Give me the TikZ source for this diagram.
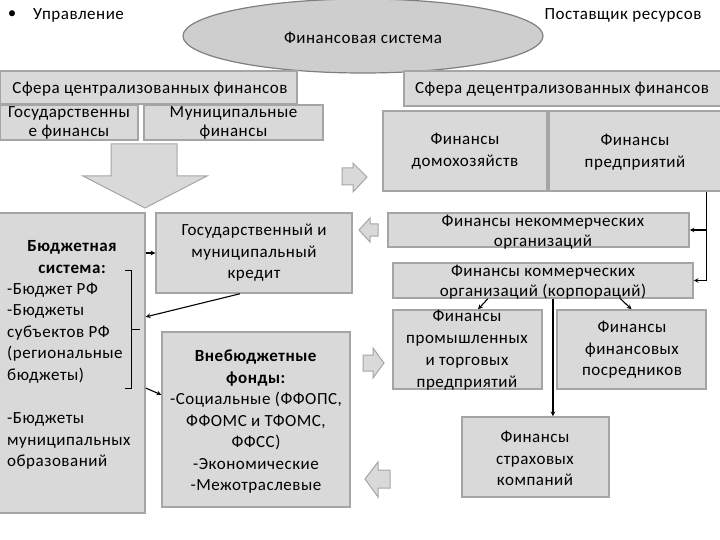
\documentclass[tikz,border=0pt]{standalone}
\usepackage{fontspec}
\setmainfont{Carlito}[LetterSpace=3]
\usetikzlibrary{calc,shapes.geometric}
\definecolor{boxfill}{HTML}{D9D9D9}
\definecolor{boxline}{HTML}{A5A5A5}
\definecolor{ellline}{HTML}{7F7F7F}

\begin{document}
\begin{tikzpicture}
[x=1pt,y=-1pt,>=stealth,
box/.style={draw=boxline,fill=boxfill,line width=1.5pt,inner sep=0pt},
txt/.style={align=center,inner sep=0pt,font=\fontsize{17}{21.5}\selectfont},
hollow/.style={draw=boxline,fill=boxfill,line width=1pt,line join=miter},
link/.style={->,line width=1.1pt},]
\useasboundingbox (0,0) rectangle (720,540);

% top line
\node (bul) at (12,15)[txt]{\textbullet};
\node (upr) at (33,15)[txt,anchor=west]{Управление};
\node (post) at (623,15)[txt]{Поставщик ресурсов};
\node (fs) at (363,36)[ellipse,draw=ellline,fill=boxfill!95!black,line width=1.2pt,minimum width=360,minimum height=74,inner sep=0pt]{};
\node (fs-t) at (363,38)[txt]{Финансовая система};

% centralized side
\node (ctl) at (148.5,87.5)[box,minimum width=297,minimum height=33]{};
\node (ctl-t) at (150,89)[txt]{Сфера централизованных финансов};
\node (gos) at (69,122.5)[box,minimum width=138,minimum height=35]{};
\node (gos-t) at (gos)[txt,font=\fontsize{17}{19}\selectfont]{Государственны\\е финансы};
\node (mun) at (233.5,122.5)[box,minimum width=179,minimum height=35]{};
\node (mun-t) at (mun)[txt,font=\fontsize{17}{19}\selectfont]{Муниципальные\\финансы};
\draw[hollow] (111,144) -- (177,144) -- (177,176) -- (207,176) -- (145,208) -- (83,176) -- (111,176) -- cycle;

\node (bud) at (72,363)[box,minimum width=146,minimum height=300]{};
\node (bud-h) at (72,257)[txt,font=\bfseries\fontsize{17}{21.5}\selectfont]{Бюджетная\\система:};
\node (bud-l) at (7,376)[txt,anchor=west,align=left]{-Бюджет РФ\\-Бюджеты\\субъектов РФ\\(региональные\\бюджеты)\\[22pt]-Бюджеты\\муниципальных\\образований};
\draw[line width=1pt] (125,270) -- (131,270) -- (131,388) -- (125,388);
\draw[line width=1pt] (131,329) -- (140,329);

\node (cred) at (254,253)[box,minimum width=196,minimum height=80]{};
\node (cred-t) at (cred)[txt]{Государственный и\\муниципальный\\кредит};
\node (vneb) at (256,419.5)[box,minimum width=188,minimum height=175]{};
\node (vneb-t) at (256,422)[txt]{\textbf{Внебюджетные}\\\textbf{фонды:}\\-Социальные (ФФОПС,\\ФФОМС и ТФОМС,\\ФФСС)\\-Экономические\\-Межотраслевые};

\draw[link] (bud.east |- cred.west) -- (cred.west);
\draw[link] ([xshift=-14pt]cred.south) -- ($(bud.north east)!0.347!(bud.south east)$);
\draw[link] ($(bud.north east)!0.583!(bud.south east)$) -- ($(vneb.north west)!0.36!(vneb.south west)$);

% decentralized side
\node (dctl) at (563,88.5)[box,minimum width=318,minimum height=35]{};
\node (dctl-t) at (562,89)[txt]{Сфера децентрализованных финансов};
\node (dom) at (465,151)[box,minimum width=164,minimum height=80]{};
\node (dom-t) at (dom)[txt]{Финансы\\домохозяйств};
\node (pred) at (635.5,151)[box,minimum width=173,minimum height=80]{};
\node (pred-t) at (635,152)[txt]{Финансы\\предприятий};
\node (nk) at (538.5,230)[box,minimum width=301,minimum height=34]{};
\node (nk-t) at (543,232)[txt,font=\fontsize{17}{20}\selectfont]{Финансы некоммерческих\\организаций};
\node (kom) at (543,280.5)[box,minimum width=300,minimum height=35]{};
\node (kom-t) at (543,282)[txt,font=\fontsize{17}{20}\selectfont]{Финансы коммерческих\\организаций (корпораций)};
\node (prom) at (467.5,349.5)[box,minimum width=149,minimum height=79]{};
\node (prom-t) at (467,350)[txt,font=\fontsize{17}{22}\selectfont]{Финансы\\промышленных\\и торговых\\предприятий};
\node (posr) at (631.5,349.5)[box,minimum width=149,minimum height=79]{};
\node (posr-t) at (632,350)[txt]{Финансы\\финансовых\\посредников};
\node (strah) at (535.5,457)[box,minimum width=147,minimum height=80]{};
\node (strah-t) at (535,458.5)[txt]{Финансы\\страховых\\компаний};

\coordinate (bus) at ($(pred.south west)!0.907!(pred.south east)$);
\draw[line width=1.1pt] (bus) -- (bus |- kom.east);
\draw[link] (bus |- nk.east) -- (nk.east);
\draw[link] (bus |- kom.east) -- (kom.east);
\coordinate (k1) at ($(kom.south west)!0.317!(kom.south east)$);
\coordinate (k2) at ($(kom.south west)!0.757!(kom.south east)$);
\coordinate (k3) at ($(kom.south west)!0.533!(kom.south east)$);
\draw[link] (k1) -- ($(prom.north west)!0.57!(prom.north east)$);
\draw[link] (k2) -- (posr.north);
\draw[link] (k3) -- (k3 |- strah.north);

% small arrows
\draw[hollow] (342,168) -- (353,168) -- (353,163) -- (367,177) -- (353,192) -- (353,185) -- (342,185) -- cycle;
\draw[hollow] (378,224) -- (370,224) -- (370,218) -- (359,230) -- (370,242) -- (370,236) -- (378,236) -- cycle;
\draw[hollow] (363,355) -- (373,355) -- (373,348) -- (384,363) -- (373,378) -- (373,371) -- (363,371) -- cycle;
\draw[hollow] (390,470) -- (378,470) -- (378,462) -- (365,479) -- (378,497) -- (378,488) -- (390,488) -- cycle;

\end{tikzpicture}
\end{document}
